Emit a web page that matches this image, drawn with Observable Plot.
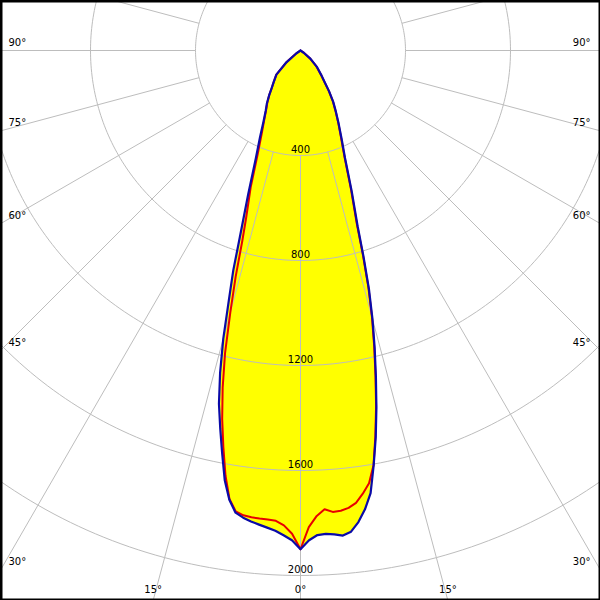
<!DOCTYPE html>
<html>
<head>
<meta charset="utf-8">
<script src="https://cdn.jsdelivr.net/npm/d3@7"></script>
<script src="https://cdn.jsdelivr.net/npm/@observablehq/plot@0.6"></script>
<style>
  html, body { margin: 0; padding: 0; background: #fff; }
  #chart { width: 600px; height: 600px; }
</style>
</head>
<body>
<div id="chart"></div>
<script>
// Gamma angles (degrees from nadir) and luminous intensities (cd)
const gamma = [0,1,2,3,4,5,6,7,8,9,10,11,12,13,14,15,16,17,18,20,22.5,25,27.5,30,32.5,35,37.5,40,45,50,55,60,70,80,90];
// C0 plane (blue, right half)
const c0   = [1900,1866,1847,1844,1848,1855,1843,1810,1765,1707,1605,1502,1391,1277,1168,1060,946,821,705,570,443,370,315,270,232,190,150,125,88,50,15,0,0,0,0];
// C180 plane (blue, left half)
const c180 = [1900,1866,1848,1832,1822,1813,1804,1793,1778,1733,1662,1564,1471,1381,1266,1137,991,876,748,582,445,365,305,265,238,208,180,160,130,70,20,0,0,0,0];
// C90 plane (red, right half)
const c90  = [1900,1816,1774,1750,1762,1760,1752,1736,1705,1669,1603,1495,1385,1270,1160,1052,938,812,695,562,438,365,312,268,230,188,148,123,86,48,14,0,0,0,0];
// C270 plane (red, left half)
const c270 = [1900,1841,1810,1794,1791,1790,1788,1784,1773,1730,1645,1540,1435,1318,1188,1033,896,758,670,555,425,350,300,262,235,208,180,160,130,70,20,0,0,0,0];

// Grid
const rings = [400, 800, 1200, 1600, 2000];
const ringLabels = ["400", "800", "1200", "1600", "2000"];
const spokeAngles = [-180,-165,-150,-135,-120,-105,-90,-75,-60,-45,-30,-15,0,15,30,45,60,75,90,105,120,135,150,165];
const sideLabelAngles = [90, 75, 60, 45, 30];
const bottomLabelAngles = [-15, 0, 15];

// Layout constants (scale configuration)
const W = 600, H = 600, CX = 300, CY = 50, K = 105 / 400; // px per cd

const rad = a => a * Math.PI / 180;
const px = (g, r) => r * Math.sin(rad(g));
const py = (g, r) => -r * Math.cos(rad(g));

function outline(left, right) {
  const L = gamma.map((g, i) => ({g: -g, I: left[i]})).reverse();
  const R = gamma.map((g, i) => ({g: g, I: right[i]}));
  return L.concat(R);
}
const blue = outline(c180, c0);
const red = outline(c270, c90);

const circlePts = [];
for (const r of rings) for (let t = 0; t <= 360; t += 1) circlePts.push({r, t});

const spokes = spokeAngles.map(a => ({a, r1: 400, r2: 3000}));

const xo = d => px(d.g, d.I), yo = d => py(d.g, d.I);

const chart = Plot.plot({
  width: W,
  height: H,
  margin: 0,
  x: {domain: [-CX / K, (W - CX) / K], range: [0, W], axis: null},
  y: {domain: [-(H - CY) / K, CY / K], range: [H, 0], axis: null},
  style: {fontFamily: "'DejaVu Sans', Verdana, sans-serif", fontSize: "10px", background: "#fff", color: "#000"},
  marks: [
    Plot.line(blue, {x: xo, y: yo, fill: "#ffff00", stroke: "none", curve: "linear-closed"}),
    Plot.line(red, {x: xo, y: yo, fill: "#ffff00", stroke: "none", curve: "linear-closed"}),
    Plot.line(circlePts, {x: d => px(d.t, d.r), y: d => py(d.t, d.r), z: "r", stroke: "#bdbdbd", strokeWidth: 1, clip: true}),
    Plot.link(spokes, {x1: d => px(d.a, d.r1), y1: d => py(d.a, d.r1), x2: d => px(d.a, d.r2), y2: d => py(d.a, d.r2), stroke: "#bdbdbd", strokeWidth: 1, clip: true}),
    Plot.line(red, {x: xo, y: yo, stroke: "#e80000", strokeWidth: 2, curve: "linear"}),
    Plot.line(blue, {x: xo, y: yo, stroke: "#0a0aa8", strokeWidth: 2.2, curve: "linear"}),
    Plot.text(rings, {x: () => 0, y: d => -d, text: (d, i) => ringLabels[i], dy: -6, fill: "#000"}),
    Plot.text(sideLabelAngles, {y: d => -(CX / K) / Math.tan(rad(d)), text: d => d + "°", frameAnchor: "left", textAnchor: "start", lineAnchor: "middle", dx: 8, dy: -8, fill: "#000"}),
    Plot.text(sideLabelAngles, {y: d => -((W - CX) / K) / Math.tan(rad(d)), text: d => d + "°", frameAnchor: "right", textAnchor: "end", lineAnchor: "middle", dx: -10, dy: -8, fill: "#000"}),
    Plot.text(bottomLabelAngles, {x: d => -((H - CY) / K) * Math.tan(rad(d)), text: d => Math.abs(d) + "°", frameAnchor: "bottom", textAnchor: "middle", lineAnchor: "middle", dy: -11, fill: "#000"}),
    Plot.frame({stroke: "#000", strokeWidth: 4})
  ]
});
document.getElementById("chart").appendChild(chart);
</script>
</body>
</html>
